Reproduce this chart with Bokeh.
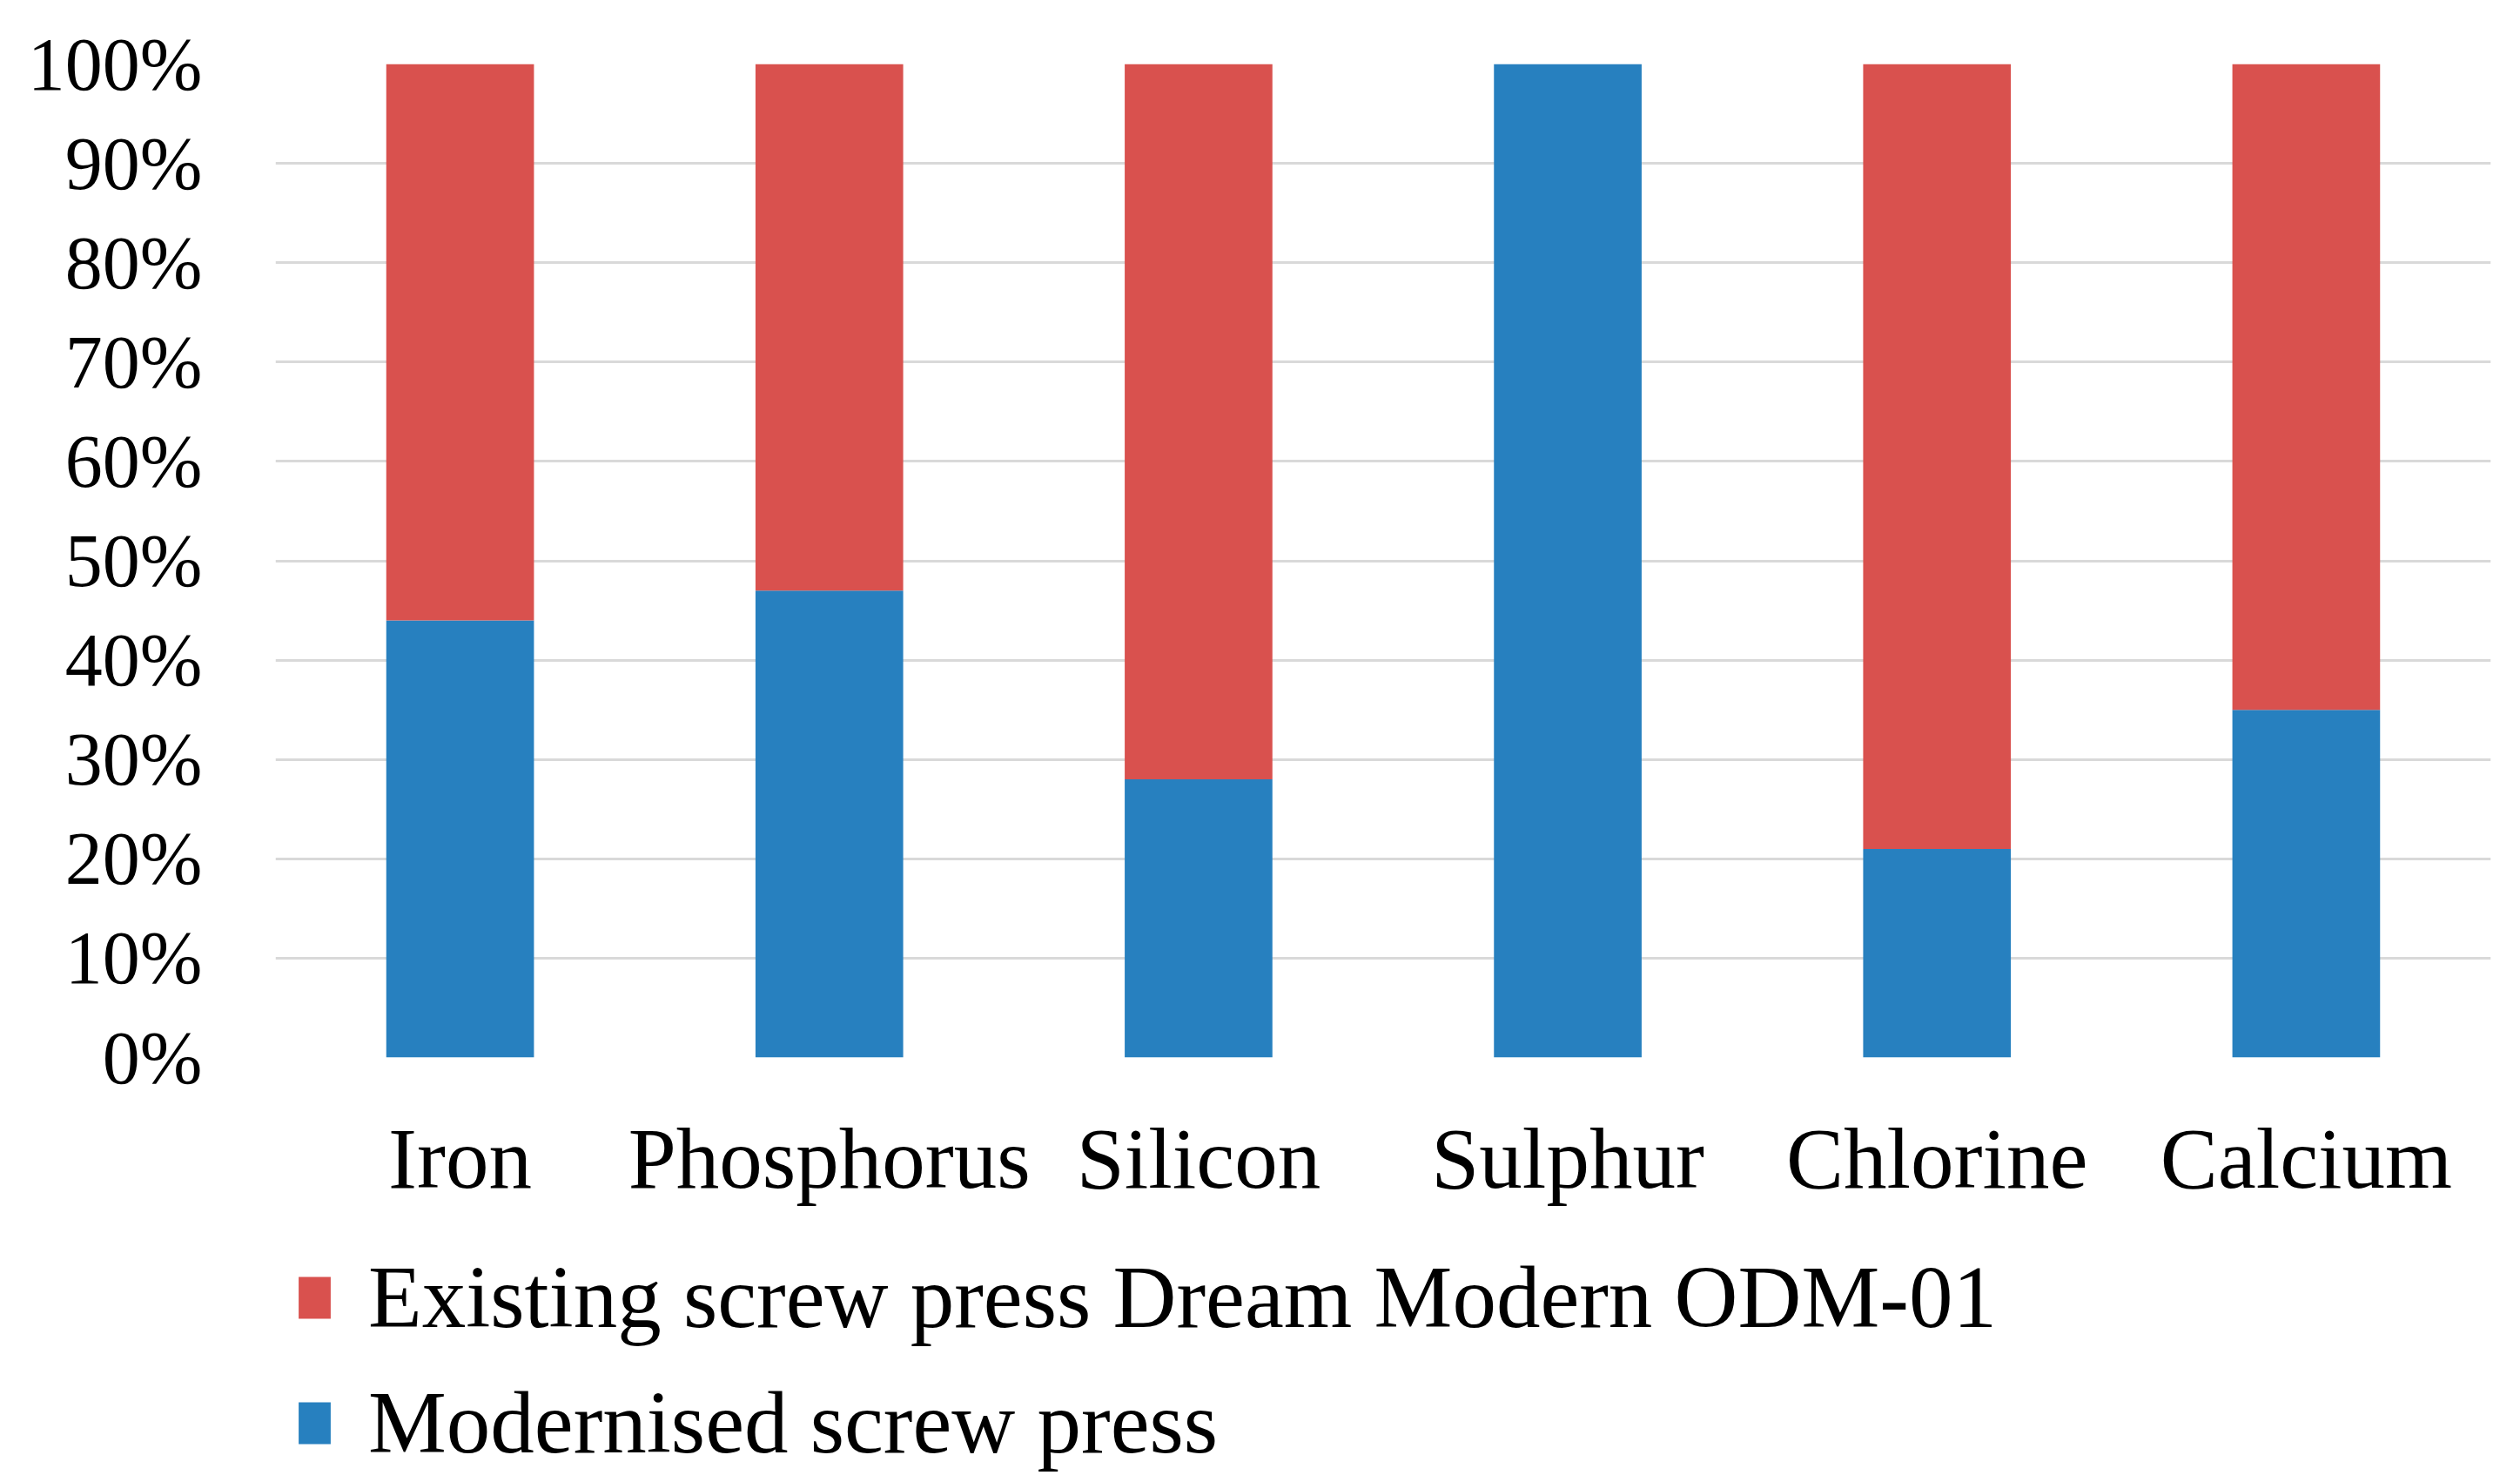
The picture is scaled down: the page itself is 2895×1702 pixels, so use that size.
from bokeh.plotting import figure
from bokeh.layouts import column
from bokeh.models import (FactorRange, Range1d, FixedTicker, NumeralTickFormatter,
                          Legend, LegendItem, ColumnDataSource)
from bokeh.embed import file_html
from bokeh.resources import INLINE

categories = ["Iron", "Phosphorus", "Silicon", "Sulphur", "Chlorine", "Calcium"]
modernised = [0.44, 0.47, 0.28, 1.00, 0.21, 0.35]
existing = [1 - v for v in modernised]
y_ticks = [0.0, 0.1, 0.2, 0.3, 0.4, 0.5, 0.6, 0.7, 0.8, 0.9, 1.0]
series_labels = ["Existing screw press Dream Modern ODM-01", "Modernised screw press"]

RED = "#D9514E"
BLUE = "#2780BF"
FONT = "Liberation Serif"

src = ColumnDataSource(dict(cat=categories, modernised=modernised, existing=existing))

p = figure(x_range=FactorRange(factors=categories, range_padding=0),
           y_range=Range1d(0, 1),
           width=2875, height=1387,
           output_backend="svg", toolbar_location=None,
           min_border_left=316, min_border_right=14,
           min_border_top=73, min_border_bottom=173)

rs = p.vbar_stack(["modernised", "existing"], x="cat", width=0.4, source=src,
                  color=[BLUE, RED], line_color=None)

p.outline_line_color = None
p.xgrid.grid_line_color = None
p.ygrid.grid_line_color = "#D9D9D9"
p.ygrid.grid_line_width = 3
p.ygrid.ticker = FixedTicker(ticks=y_ticks)

p.yaxis.ticker = FixedTicker(ticks=y_ticks)
p.yaxis.formatter = NumeralTickFormatter(format="0%")
for ax in (p.xaxis[0], p.yaxis[0]):
    ax.axis_line_color = None
    ax.major_tick_line_color = None
    ax.minor_tick_line_color = None
    ax.major_label_text_font = FONT
    ax.major_label_text_color = "#000000"
p.yaxis.major_label_text_font_size = "86px"
p.yaxis.major_label_standoff = 78
p.xaxis.major_label_text_font_size = "99px"
p.xaxis.major_label_standoff = 55

# legend panel below the chart (hidden copies of the series feed the legend swatches)
lg = figure(x_range=FactorRange(factors=categories, range_padding=0),
            y_range=Range1d(0, 1),
            width=2875, height=306, output_backend="svg", toolbar_location=None,
            x_axis_location=None, y_axis_location=None,
            min_border_left=316, min_border_top=23, min_border_right=14,
            min_border_bottom=0)
lg.grid.grid_line_color = None
lg.outline_line_color = None
lrs = lg.vbar_stack(["modernised", "existing"], x="cat", width=0.4, source=src,
                    color=[BLUE, RED], line_color=None)
for r in lrs:
    r.visible = False

legend = Legend(items=[LegendItem(label=series_labels[0], renderers=[lrs[1]]),
                       LegendItem(label=series_labels[1], renderers=[lrs[0]])],
                location="top_left", orientation="vertical",
                padding=0, margin=22, spacing=28,
                border_line_color=None, background_fill_alpha=0,
                glyph_width=46, glyph_height=60, label_standoff=39,
                label_height=112,
                label_text_font=FONT, label_text_font_size="101px",
                label_text_color="#000000")
lg.add_layout(legend)

open("out.html", "w").write(file_html(column(p, lg), INLINE))
